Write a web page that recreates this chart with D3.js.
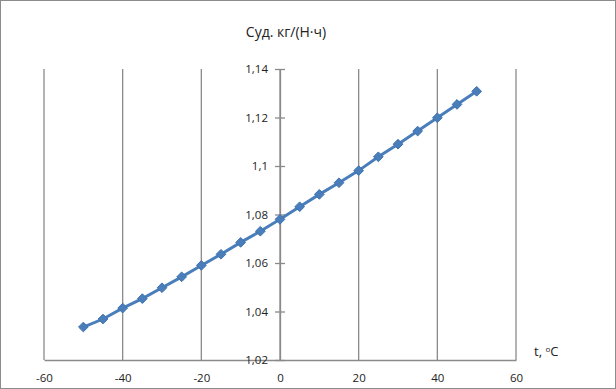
<!DOCTYPE html>
<html>
<head>
<meta charset="utf-8">
<script src="https://cdn.jsdelivr.net/npm/d3@7"></script>
<style>
  html, body { margin: 0; padding: 0; background: #fff; }
  svg { display: block; }
  text { font-family: "Open Sans", "Liberation Sans", sans-serif; fill: #222; }
</style>
</head>
<body>
<svg id="chart" width="616" height="389"></svg>
<script>
// temperature, °C
const temps = [-50, -45, -40, -35, -30, -25, -20, -15, -10, -5, 0, 5, 10, 15, 20, 25, 30, 35, 40, 45, 50];
// specific consumption, kg/(N·h)
const values = [1.0336, 1.0369, 1.0414, 1.0453, 1.0498, 1.0543, 1.0590, 1.0636, 1.0685, 1.0731, 1.0780,
                1.0832, 1.0883, 1.0931, 1.0981, 1.1038, 1.1090, 1.1144, 1.1199, 1.1254, 1.1308];
const xTicks = [-60, -40, -20, 0, 20, 40, 60];
const yTicks = [1.02, 1.04, 1.06, 1.08, 1.1, 1.12, 1.14];

const svg = d3.select('#chart');
const width = 616, height = 389;

// outer frame
svg.append('rect')
    .attr('x', 0.5).attr('y', 0.5)
    .attr('width', width - 1).attr('height', height - 1)
    .attr('fill', '#fff').attr('stroke', '#8c8c8c');

const x = d3.scaleLinear().domain([-60, 60]).range([44, 516]);
const y = d3.scaleLinear().domain([1.02, 1.14]).range([360, 69]);

const fmt = d => String(d).replace('.', ',');

// vertical gridlines
svg.append('g').selectAll('line')
    .data(xTicks)
    .join('line')
    .attr('x1', d => x(d)).attr('x2', d => x(d))
    .attr('y1', y(1.14)).attr('y2', y(1.02))
    .attr('stroke', '#8a8a8a').attr('stroke-width', 1.3);

// bottom axis
const xAxis = svg.append('g')
    .attr('transform', `translate(0,${y(1.02)})`)
    .call(d3.axisBottom(x).tickValues(xTicks).tickSize(0).tickPadding(14).tickFormat(d => d));
xAxis.select('.domain').attr('stroke', '#8a8a8a').attr('stroke-width', 1.3);
xAxis.selectAll('text').attr('font-size', 11.5).attr('fill', '#222')
    .style('font-family', '"Open Sans", "Liberation Sans", sans-serif');

// vertical axis crossing at zero
const yAxis = svg.append('g')
    .attr('transform', `translate(${x(0)},0)`)
    .call(d3.axisLeft(y).tickValues(yTicks).tickSize(0).tickPadding(12).tickFormat(fmt));
yAxis.select('.domain').attr('stroke', '#8a8a8a').attr('stroke-width', 1.3);
yAxis.selectAll('text').attr('font-size', 11.5).attr('fill', '#222')
    .style('font-family', '"Open Sans", "Liberation Sans", sans-serif');
yAxis.selectAll('.tick').append('line')
    .attr('x1', -5).attr('x2', 5)
    .attr('stroke', '#8a8a8a').attr('stroke-width', 1.3);

// series line
const line = d3.line().x((d, i) => x(temps[i])).y(d => y(d));
svg.append('path')
    .datum(values)
    .attr('d', line)
    .attr('fill', 'none')
    .attr('stroke', '#4a7ebb')
    .attr('stroke-width', 3);

// diamond markers
const diamond = d3.symbol().type(d3.symbolDiamond2).size(60);
svg.append('g').selectAll('path')
    .data(values)
    .join('path')
    .attr('transform', (d, i) => `translate(${x(temps[i])},${y(d)})`)
    .attr('d', diamond)
    .attr('fill', '#4a7ebb')
    .attr('stroke', '#3f72ae')
    .attr('stroke-width', 1);

// titles
svg.append('text')
    .attr('x', 286).attr('y', 37)
    .attr('text-anchor', 'middle')
    .attr('font-size', 14)
    .text('Суд. кг/(Н·ч)');

const tl = svg.append('text')
    .attr('x', 534).attr('y', 356)
    .attr('font-size', 13);
tl.append('tspan').text('t, ');
tl.append('tspan').attr('font-size', 8).attr('dy', -4).text('o');
tl.append('tspan').attr('dy', 4).text('C');
</script>
</body>
</html>
